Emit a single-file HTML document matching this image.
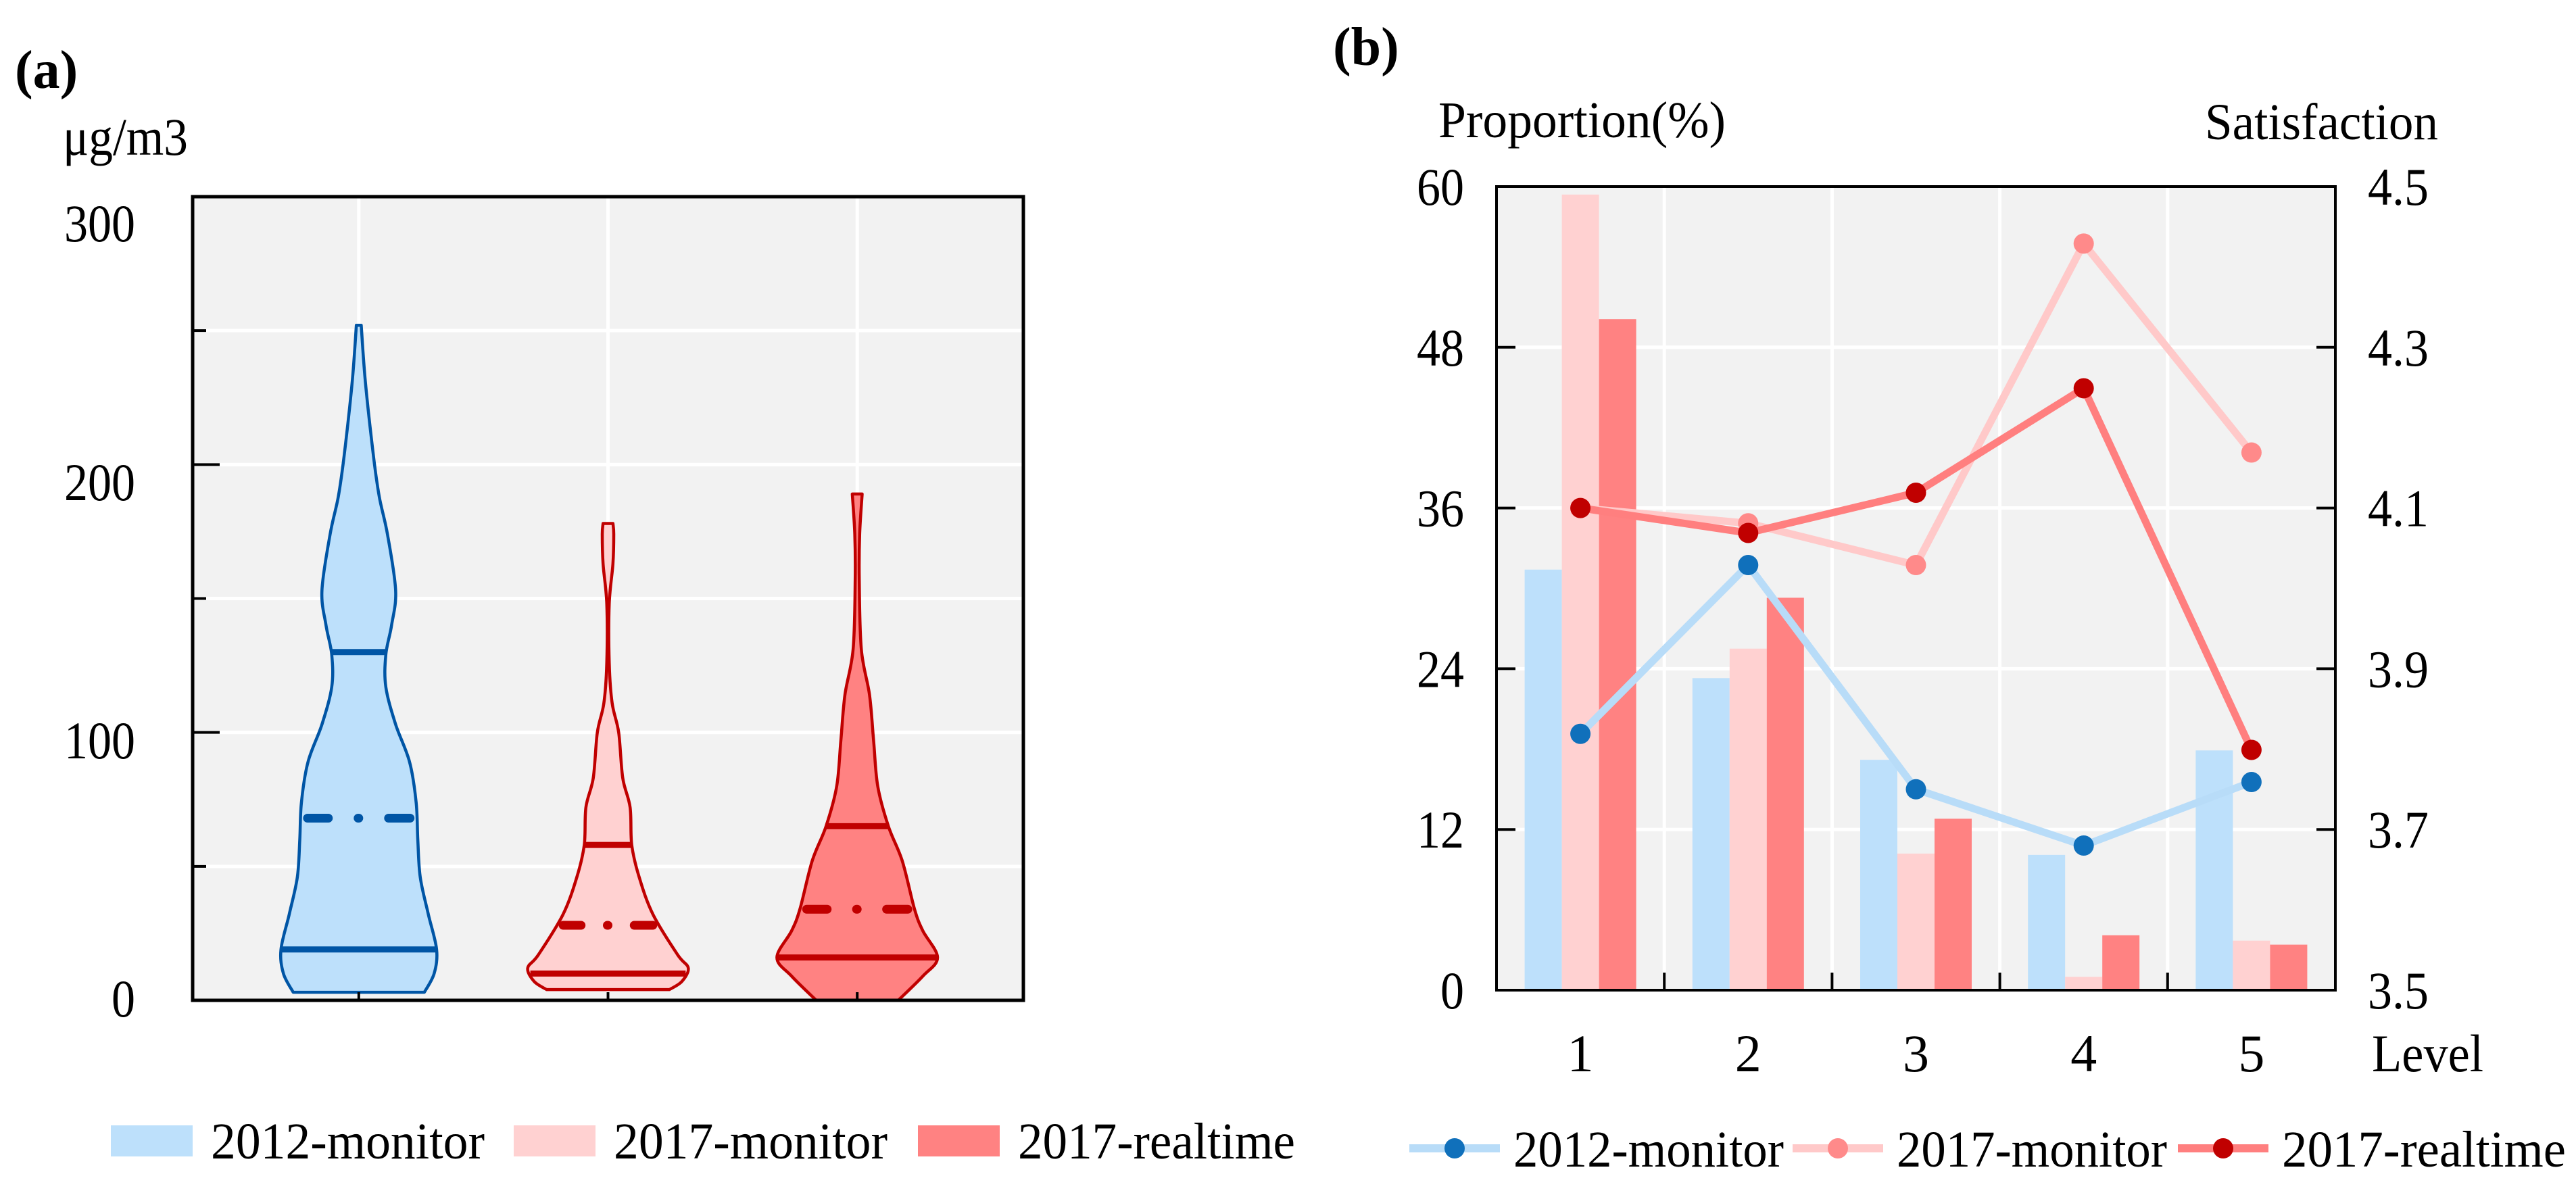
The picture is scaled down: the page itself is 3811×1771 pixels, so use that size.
<!DOCTYPE html>
<html><head><meta charset="utf-8"><style>
html,body{margin:0;padding:0;background:#fff}
svg{display:block}
text{font-family:"Liberation Serif",serif;fill:#000}
</style></head><body>
<svg id="chart" xmlns="http://www.w3.org/2000/svg" width="3811" height="1771" viewBox="0 0 3811 1771">
<g id="pa"></g>
<g id="pb"></g>
</svg>
<script>
// ---------- Panel (a) data ----------
const violinNames = ["2012-monitor","2017-monitor","2017-realtime"];
const violinPos = [1, 2.5, 4];
const yTicksA = [0,100,200,300];
const v1Vals = [252,231,203,188,174,153,140,129,117,103,89,74,60,46,32,19,10,3];
const v1Dens = [3,8,18,25,35,45,40,33,33,45,62,70,72,75,85,95,92,80];
const v2Vals = [178,174,163,148,126,111,100,83,72,58,46,32,17,12,7,4];
const v2Dens = [6,7,6,1.5,1.5,5,13,18,27,29,38,55,85,98,90,75];
const v3Vals = [189,174,157,131,114,97,80,65,52,34,26,16,9,0];
const v3Dens = [6,3,2.5,5,15,20,25,38,55,70,80,98,80,50];
const q3Vals = [130,58,65];
const meanVals = [68,28,34];
const q1Vals = [19,10,16];

// ---------- Panel (b) data ----------
const levels = ["1","2","3","4","5"];
const propTicks = [0,12,24,36,48,60];
const satTicks = ["3.5","3.7","3.9","4.1","4.3","4.5"];
const bar2012 = [31.4,23.3,17.2,10.1,17.9];
const bar2017m = [59.4,25.5,10.2,1.0,3.7];
const bar2017r = [50.1,29.3,12.8,4.1,3.4];
const sat2012 = [3.819,4.029,3.750,3.680,3.759];
const sat2017m = [4.100,4.081,4.029,4.429,4.169];
const sat2017r = [4.100,4.069,4.119,4.249,3.799];

const NS="http://www.w3.org/2000/svg";
function mk(parent, tag, attrs){const e=document.createElementNS(NS,tag);for(const k in attrs)e.setAttribute(k,attrs[k]);parent.appendChild(e);return e;}
function smooth(pts){let d='M'+pts[0][0].toFixed(1)+','+pts[0][1].toFixed(1);
  for(let i=0;i<pts.length-1;i++){const p0=pts[Math.max(0,i-1)],p1=pts[i],p2=pts[i+1],p3=pts[Math.min(pts.length-1,i+2)];
    const c1=[p1[0]+(p2[0]-p0[0])/6,p1[1]+(p2[1]-p0[1])/6],c2=[p2[0]-(p3[0]-p1[0])/6,p2[1]-(p3[1]-p1[1])/6];
    d+='C'+c1[0].toFixed(1)+','+c1[1].toFixed(1)+' '+c2[0].toFixed(1)+','+c2[1].toFixed(1)+' '+p2[0].toFixed(1)+','+p2[1].toFixed(1);}
  return d;}

// ---------- Panel (a) ----------
const pa=document.getElementById('pa');
const A={l:285,r:1514,t:291,b:1480};
const xA=v=>A.l+(A.r-A.l)*v/5;
const yA=v=>A.b-(A.b-A.t)*v/300;
const DSCALE=1.212;
let bg=mk(pa,'rect',{x:A.l,y:A.t,width:A.r-A.l,height:A.b-A.t,fill:'#f2f2f2'});


[50,100,150,200,250].forEach(v=>{let g=mk(pa,'line',{x1:A.l,x2:A.r,y1:yA(v),y2:yA(v),stroke:'#fff','stroke-width':5});

});
violinPos.forEach(p=>{let g=mk(pa,'line',{x1:xA(p),x2:xA(p),y1:A.t,y2:A.b,stroke:'#fff','stroke-width':5});

});
const fills=['#bde0fb','#ffd1d1','#ff8282'];
const strokes=['#0055a5','#c00000','#c00000'];
const vVals=[v1Vals,v2Vals,v3Vals], vDens=[v1Dens,v2Dens,v3Dens];
function hwAt(vals,dens,v){for(let i=0;i<vals.length-1;i++){if(v<=vals[i]&&v>=vals[i+1]){const t=(vals[i]-v)/(vals[i]-vals[i+1]);return (dens[i]+(dens[i+1]-dens[i])*t)*DSCALE;}}return dens[dens.length-1]*DSCALE;}
violinPos.forEach((p,k)=>{
  const cx=xA(p),vals=vVals[k],dens=vDens[k];
  let right=[],left=[];
  for(let i=0;i<vals.length;i++)right.push([cx+dens[i]*DSCALE,yA(vals[i])]);
  for(let i=vals.length-1;i>=0;i--)left.push([cx-dens[i]*DSCALE,yA(vals[i])]);
  let d=smooth(right)+'L'+smooth(left).slice(1)+'Z';
  let v=mk(pa,'path',{d:d,fill:fills[k],stroke:strokes[k],'stroke-width':4.5,'stroke-linejoin':'round'});
  
  
  [q3Vals[k],q1Vals[k]].forEach(q=>{const hw=hwAt(vals,dens,q);
    let l=mk(pa,'line',{x1:cx-hw,x2:cx+hw,y1:yA(q),y2:yA(q),stroke:strokes[k],'stroke-width':9});
    
    });
  const m=meanVals[k],hw=hwAt(vals,dens,m)-4;
  let ml=mk(pa,'line',{x1:cx-hw+6,x2:cx+hw-6,y1:yA(m),y2:yA(m),stroke:strokes[k],'stroke-width':13,'stroke-linecap':'round','stroke-dasharray':`${hw*0.45-6} ${hw*0.55-1} 1 ${hw*0.55-1} ${hw}`});
  
  
});
let fa=mk(pa,'rect',{x:A.l,y:A.t,width:A.r-A.l,height:A.b-A.t,fill:'none',stroke:'#000','stroke-width':5});


[50,100,150,200,250].forEach(v=>{let len=v%100===0?40:20;let t=mk(pa,'line',{x1:A.l,x2:A.l+len,y1:yA(v),y2:yA(v),stroke:'#000','stroke-width':4});

});
violinPos.forEach(p=>{let t=mk(pa,'line',{x1:xA(p),x2:xA(p),y1:A.b,y2:A.b-12,stroke:'#000','stroke-width':4});

});
const labBaseA=[1504,1122,740,357];
yTicksA.forEach((v,i)=>{const s=String(v);let t=mk(pa,'text',{x:200,y:labBaseA[i],'font-size':78,'text-anchor':'end',textLength:35*s.length,lengthAdjust:'spacingAndGlyphs'});t.textContent=s;

});
let ua=mk(pa,'text',{x:93,y:229,'font-size':78,textLength:185,lengthAdjust:'spacingAndGlyphs'});ua.textContent='μg/m3';


let la=mk(pa,'text',{x:22,y:130,'font-size':80,'font-weight':'bold'});la.textContent='(a)';


const legAx=[164,760,1358];
const legAw=[405,405,410];
violinNames.forEach((n,k)=>{
  let s=mk(pa,'rect',{x:legAx[k],y:1665,width:121,height:46,fill:fills[k]});
  
  
  let t=mk(pa,'text',{x:legAx[k]+148,y:1714,'font-size':76,textLength:legAw[k],lengthAdjust:'spacingAndGlyphs'});t.textContent=n;
  
  
});

// ---------- Panel (b) ----------
const pb=document.getElementById('pb');
const B={l:2214,r:3455,t:276,b:1465};
const xB=i=>B.l+(B.r-B.l)*(i+0.5)/5;
const yL=v=>B.b-(B.b-B.t)*v/60;
const yR=v=>B.b-(B.b-B.t)*(v-3.5)/1.0;
let bgb=mk(pb,'rect',{x:B.l,y:B.t,width:B.r-B.l,height:B.b-B.t,fill:'#f2f2f2'});


propTicks.slice(1,5).forEach(v=>{let g=mk(pb,'line',{x1:B.l,x2:B.r,y1:yL(v),y2:yL(v),stroke:'#fff','stroke-width':5});

});
for(let i=1;i<5;i++){let g=mk(pb,'line',{x1:B.l+(B.r-B.l)*i/5,x2:B.l+(B.r-B.l)*i/5,y1:B.t,y2:B.b,stroke:'#fff','stroke-width':5});

}
const seriesNames=["2012-monitor","2017-monitor","2017-realtime"];
const barSeries=[bar2012,bar2017m,bar2017r];
const barCols=['#bde0fb','#ffd1d1','#ff8282'];
const BW=55;
barSeries.forEach((arr,s)=>arr.forEach((v,i)=>{
  let r=mk(pb,'rect',{x:xB(i)+(s-1.5)*BW,y:yL(v),width:BW,height:B.b-yL(v),fill:barCols[s]});
  
  
}));
const lineSeries=[sat2012,sat2017m,sat2017r];
const lineCols=['#b8dcf8','#ffc9c9','#ff7f7f'];
const markCols=['#1070bb','#ff8a8a','#c00000'];
lineSeries.forEach((arr,s)=>{
  let pl=mk(pb,'polyline',{points:arr.map((v,i)=>xB(i)+','+yR(v)).join(' '),fill:'none',stroke:lineCols[s],'stroke-width':11,'stroke-linejoin':'round'});
  
  
});
lineSeries.forEach((arr,s)=>arr.forEach((v,i)=>{
  let c=mk(pb,'circle',{cx:xB(i),cy:yR(v),r:15,fill:markCols[s]});
  
  
}));
let fb=mk(pb,'rect',{x:B.l,y:B.t,width:B.r-B.l,height:B.b-B.t,fill:'none',stroke:'#000','stroke-width':4});


propTicks.slice(1,5).forEach(v=>{
  let t=mk(pb,'line',{x1:B.l,x2:B.l+28,y1:yL(v),y2:yL(v),stroke:'#000','stroke-width':4});
  
  
  let t2=mk(pb,'line',{x1:B.r,x2:B.r-28,y1:yL(v),y2:yL(v),stroke:'#000','stroke-width':4});
  
  
});
for(let i=1;i<5;i++){let t=mk(pb,'line',{x1:B.l+(B.r-B.l)*i/5,x2:B.l+(B.r-B.l)*i/5,y1:B.b,y2:B.b-26,stroke:'#000','stroke-width':4});

}
propTicks.forEach(v=>{const s=String(v);let t=mk(pb,'text',{x:2166,y:yL(v)+27,'font-size':78,'text-anchor':'end',textLength:35*s.length,lengthAdjust:'spacingAndGlyphs'});t.textContent=s;

});
satTicks.forEach((v,i)=>{let t=mk(pb,'text',{x:3503,y:yL(propTicks[i])+27,'font-size':78,textLength:90,lengthAdjust:'spacingAndGlyphs'});t.textContent=v;

});
levels.forEach((l,i)=>{let t=mk(pb,'text',{x:xB(i),y:1585,'font-size':78,'text-anchor':'middle'});t.textContent=l;

});
let lv=mk(pb,'text',{x:3509,y:1585,'font-size':78,textLength:165,lengthAdjust:'spacingAndGlyphs'});lv.textContent='Level';


let pt=mk(pb,'text',{x:2128,y:203,'font-size':76,textLength:425,lengthAdjust:'spacingAndGlyphs'});pt.textContent='Proportion(%)';


let st=mk(pb,'text',{x:3262,y:206,'font-size':76,textLength:345,lengthAdjust:'spacingAndGlyphs'});st.textContent='Satisfaction';


let lb=mk(pb,'text',{x:1972,y:96,'font-size':80,'font-weight':'bold'});lb.textContent='(b)';


const legBx=[2085,2652,3222];
const legBw=[400,400,420];
seriesNames.forEach((n,s)=>{
  let l=mk(pb,'line',{x1:legBx[s],x2:legBx[s]+134,y1:1699,y2:1699,stroke:lineCols[s],'stroke-width':12});
  
  
  let c=mk(pb,'circle',{cx:legBx[s]+67,cy:1699,r:15,fill:markCols[s]});
  
  
  let t=mk(pb,'text',{x:legBx[s]+154,y:1726,'font-size':76,textLength:legBw[s],lengthAdjust:'spacingAndGlyphs'});t.textContent=n;
  
  
});
</script>
</body></html>
